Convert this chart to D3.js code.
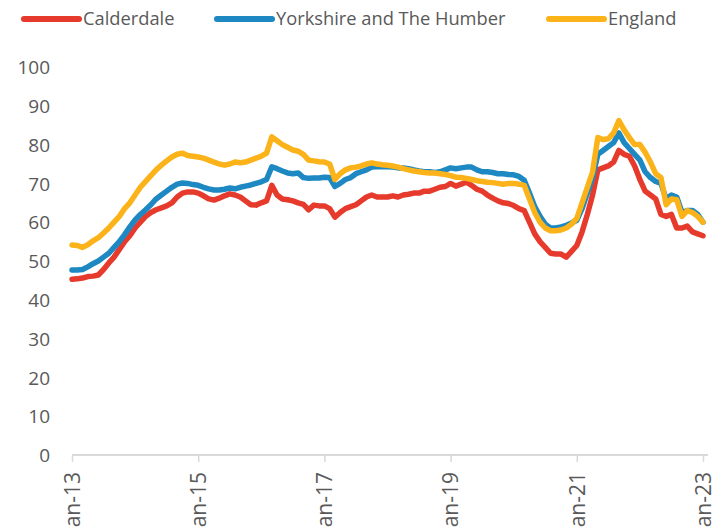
<!DOCTYPE html>
<html>
<head>
<meta charset="utf-8">
<script src="https://cdn.jsdelivr.net/npm/d3@7"></script>
<style>
  body { margin: 0; background: #fff; }
  svg text { font-family: "Open Sans", "DejaVu Sans", sans-serif; fill: #595959; }
</style>
</head>
<body>
<svg width="724" height="528"></svg>
<script>
// monthly values, Jan-13 .. Jan-23
var calderdale = [
  45.3, 45.4, 45.6, 46, 46.1, 46.4, 47.8, 49.5, 51, 53, 55, 56.5,
  58.5, 60, 61.5, 62.5, 63.2, 63.7, 64.2, 65, 66.5, 67.5, 67.8, 67.8,
  67.5, 66.8, 66, 65.7, 66.2, 66.8, 67.3, 67, 66.5, 65.5, 64.5, 64.4,
  65, 65.5, 69.5, 67, 66, 65.8, 65.5, 65, 64.6, 63.2, 64.4, 64.2,
  64.2, 63.5, 61.3, 62.5, 63.5, 64, 64.5, 65.5, 66.5, 67, 66.5, 66.5,
  66.5, 66.8, 66.5, 67, 67.2, 67.5, 67.5, 68, 68, 68.5, 69, 69.2,
  70, 69.3, 69.8, 70.3, 69.5, 68.5, 68, 67, 66.2, 65.5, 65, 64.8,
  64.3, 63.5, 63, 60, 57, 55, 53.5, 52, 51.8, 51.8, 51, 52.5,
  54, 57.5, 62, 67, 73.5, 74, 74.5, 75.5, 78.5, 77.5, 77, 74.5,
  71, 68, 67, 66, 62, 61.5, 62, 58.5, 58.5, 59, 57.5, 57,
  56.5
];
var yorkshire = [
  47.7, 47.7, 47.8, 48.5, 49.3, 50, 51, 52, 53.5, 55, 56.8, 58.8,
  60.6, 62, 63.2, 64.5, 66, 67, 68, 69, 69.8, 70.1, 70, 69.7,
  69.5, 69, 68.6, 68.3, 68.3, 68.5, 68.8, 68.6, 69, 69.3, 69.6, 70,
  70.4, 71, 74.3, 73.8, 73.2, 72.7, 72.5, 72.7, 71.5, 71.3, 71.4, 71.4,
  71.6, 71.5, 69.2, 70, 71, 71.5, 72.5, 73, 73.5, 74.2, 74.3, 74.3,
  74.3, 74.2, 74, 74, 73.8, 73.5, 73.2, 73, 73, 72.8, 73, 73.5,
  74, 73.8, 74, 74.2, 74.2, 73.5, 73, 73, 72.8, 72.5, 72.5, 72.3,
  72.2, 71.8, 70.8, 67.5, 64, 61.5, 59.5, 58.5, 58.5, 58.8, 59.2, 59.8,
  60.5, 63.5, 67.5, 71.5, 77.5, 78.5, 79.5, 80.5, 83, 80.5, 79, 77.5,
  76, 73, 71.5, 70.5, 70, 66, 67, 66.5, 62.5, 63, 63, 62,
  60
];
var england = [
  54.1, 54, 53.5, 54.2, 55.2, 56, 57.2, 58.5, 60, 61.5, 63.5, 65,
  67, 69, 70.5, 72, 73.5, 74.7, 75.8, 76.8, 77.5, 77.8, 77.2, 77,
  76.8, 76.5, 76, 75.5, 75, 74.7, 75, 75.5, 75.3, 75.5, 76, 76.5,
  77, 77.8, 82, 81, 80, 79.3, 78.6, 78.3, 77.5, 76, 75.8, 75.6,
  75.5, 75, 71, 72.5, 73.5, 74, 74.2, 74.5, 75, 75.3, 75, 74.8,
  74.7, 74.5, 74.2, 73.8, 73.5, 73.2, 73, 72.8, 72.7, 72.7, 72.5, 72.3,
  72, 71.6, 71.5, 71.3, 71, 70.7, 70.5, 70.3, 70.2, 70, 69.8, 70,
  70, 69.8, 69.5, 66, 62.5, 60, 58.5, 57.8, 57.8, 58, 58.5, 59.5,
  61, 65, 69, 73, 81.8, 81.3, 81.5, 83, 86.2, 83.8, 81.8, 80,
  80, 78, 75.5, 72.5, 71.5, 64.5, 66, 65.8, 61.5, 63, 62.5, 61.5,
  60
];
var seriesNames = ["Calderdale", "Yorkshire and The Humber", "England"];
var seriesColors = ["#e63a2c", "#1d88c1", "#fbb319"];
var yTicks = [0, 10, 20, 30, 40, 50, 60, 70, 80, 90, 100];
var xTickLabels = ["Jan-13", "Jan-15", "Jan-17", "Jan-19", "Jan-21", "Jan-23"];

var svg = d3.select("svg");

var x = d3.scaleLinear().domain([0, 120]).range([72, 703]);
var y = d3.scaleLinear().domain([0, 100]).range([455, 67]);

// x axis baseline + ticks
var xAxis = d3.axisBottom(x)
  .tickValues(d3.range(0, 121, 24))
  .tickSize(7)
  .tickFormat((d, i) => xTickLabels[i]);

var gx = svg.append("g")
  .attr("transform", "translate(0,455)")
  .call(xAxis);
gx.select(".domain").attr("d", "M72,0H708").attr("stroke", "#d9d9d9").attr("stroke-width", 2);
gx.selectAll(".tick line").attr("stroke", "#d9d9d9").attr("stroke-width", 1.5);
// labels run past the bottom edge, as in the original (the "J" is cut off)
gx.selectAll(".tick text")
  .attr("transform", "rotate(-90)")
  .attr("x", -17)
  .attr("y", 0)
  .attr("dy", "0.35em")
  .attr("text-anchor", "end")
  .style("font-size", "21px");

// y axis labels only
var yAxis = d3.axisLeft(y).tickValues(yTicks).tickSize(0).tickPadding(0);
var gy = svg.append("g")
  .attr("transform", "translate(50,0)")
  .call(yAxis);
gy.select(".domain").remove();
gy.selectAll(".tick text").style("font-size", "19px").attr("dy", "0.35em");

var line = d3.line()
  .x((d, i) => x(i))
  .y((d) => y(d));

var allSeries = [calderdale, yorkshire, england];

svg.selectAll(".series")
  .data(allSeries)
  .enter()
  .append("path")
  .attr("class", "series")
  .attr("d", (d) => line(d))
  .attr("fill", "none")
  .attr("stroke", (d, i) => seriesColors[i])
  .attr("stroke-width", 5.5)
  .attr("stroke-linejoin", "round")
  .attr("stroke-linecap", "round");

// legend
var legendX = [24, 217, 549];
var legend = svg.selectAll(".legend")
  .data(seriesNames)
  .enter()
  .append("g")
  .attr("class", "legend")
  .attr("transform", (d, i) => "translate(" + legendX[i] + ",19)");

legend.append("line")
  .attr("x1", 0)
  .attr("x2", 55)
  .attr("stroke", (d, i) => seriesColors[i])
  .attr("stroke-width", 6)
  .attr("stroke-linecap", "round");

legend.append("text")
  .attr("x", 59)
  .attr("dy", "0.35em")
  .style("font-size", "18.3px")
  .text((d) => d);
</script>
</body>
</html>
